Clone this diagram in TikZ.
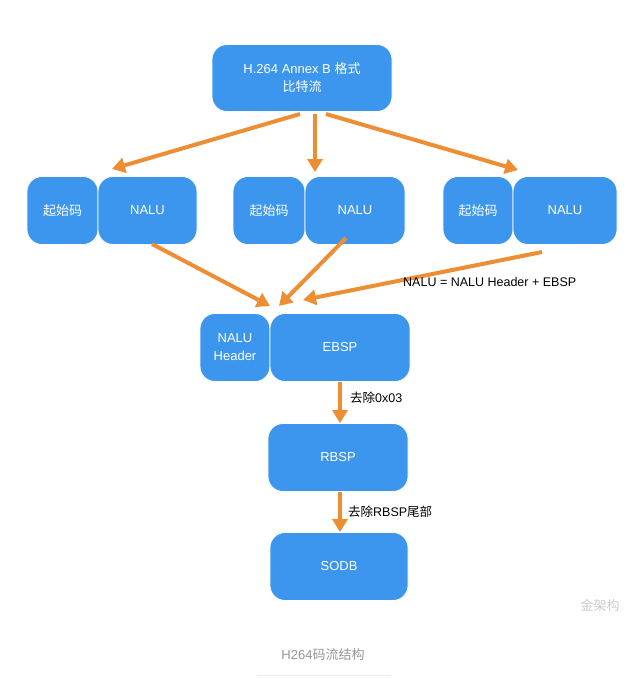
\documentclass[tikz,border=0pt]{standalone}
\usepackage{fontspec}
\setmainfont{Liberation Sans}
\newfontfamily\cjk{Noto Sans CJK SC}
\usepackage{tikz}
\usetikzlibrary{arrows.meta,calc}
\definecolor{AzulCaja}{RGB}{60,150,238}
\definecolor{NaranjaFlecha}{RGB}{238,142,52}
\definecolor{GrisTexto}{RGB}{150,150,150}

\begin{document}
\begin{tikzpicture}[x=1pt,y=-1pt,
  caja/.style={fill=AzulCaja,draw=white,line width=0.8pt,rounded corners=15pt,
    text=white,align=center,inner sep=0pt,minimum height=68pt,
    font=\fontsize{13}{18}\selectfont},
  flecha/.style={-{Triangle[length=13pt,width=15pt]},line width=4pt,NaranjaFlecha,shorten >=0pt},
  rotulo/.style={font=\fontsize{12.5}{14}\selectfont,inner sep=0pt}]
  \useasboundingbox[fill=white] (0,0) rectangle (640,678);
  % boxes
  \node[caja,minimum width=180pt,minimum height=67pt] (fuente) at (302,78) {H.264 Annex B {\cjk 格式}\\{\cjk 比特流}};
  \node[caja,minimum width=71pt]  (inicio1) at (62.5,210.5) {\cjk 起始码};
  \node[caja,minimum width=99pt]  (nalu1)   at (147.5,210.5) {NALU};
  \node[caja,minimum width=72pt]  (inicio2) at (269,210.5) {\cjk 起始码};
  \node[caja,minimum width=100pt] (nalu2)   at (355,210.5) {NALU};
  \node[caja,minimum width=70pt]  (inicio3) at (478,210.5) {\cjk 起始码};
  \node[caja,minimum width=104pt] (nalu3)   at (565,210.5) {NALU};
  \node[caja,minimum width=70pt]  (cabecera) at (235,347.5) {NALU\\Header};
  \node[caja,minimum width=140pt] (ebsp) at (340,347.5) {EBSP};
  \node[caja,minimum width=140pt] (rbsp) at (338,457.5) {RBSP};
  \node[caja,minimum width=138pt] (sodb) at (339,566.5) {SODB};
  % arrow ends
  \coordinate (f1) at (300,114);
  \coordinate (f2) at (315,114);
  \coordinate (f3) at (326,114);
  \coordinate (p1) at (112,169);
  \coordinate (p2) at (315,172);
  \coordinate (p3) at (518,170);
  \coordinate (n1) at (152,244);
  \coordinate (n2) at (346,238);
  \coordinate (n3) at (542,252);
  \coordinate (h1) at (270,306);
  \coordinate (h2) at (279,306);
  \coordinate (h3) at (303,300);
  \draw[flecha] (f1)--(p1);
  \draw[flecha] (f2)--(p2);
  \draw[flecha] (f3)--(p3);
  \draw[flecha] (n1)--(h1);
  \draw[flecha] (n2)--(h2);
  \draw[flecha] (n3)--(h3);
  \draw[flecha] (ebsp.south-|340,0)--(rbsp.north-|340,0);
  \draw[flecha] (rbsp.south-|340,0)--(sodb.north-|340,0);
  % labels
  \node[rotulo,anchor=west] (formula) at (403,282) {NALU = NALU Header + EBSP};
  \node[rotulo,anchor=west] (paso1) at (350,398) {{\cjk 去除}0x03};
  \node[rotulo,anchor=west] (paso2) at (348,512) {{\cjk 去除}RBSP{\cjk 尾部}};
  % caption
  \node[font=\fontsize{13}{15}\selectfont,text=GrisTexto] (titulo) at (323,655) {H264{\cjk 码流结构}};
  \draw[gray!15,line width=0.8pt] (258,675)--(390,675);
  \node[font=\cjk\fontsize{13}{15}\selectfont,text=gray!40] (marca) at (600,606) {金架构};
\end{tikzpicture}
\end{document}
